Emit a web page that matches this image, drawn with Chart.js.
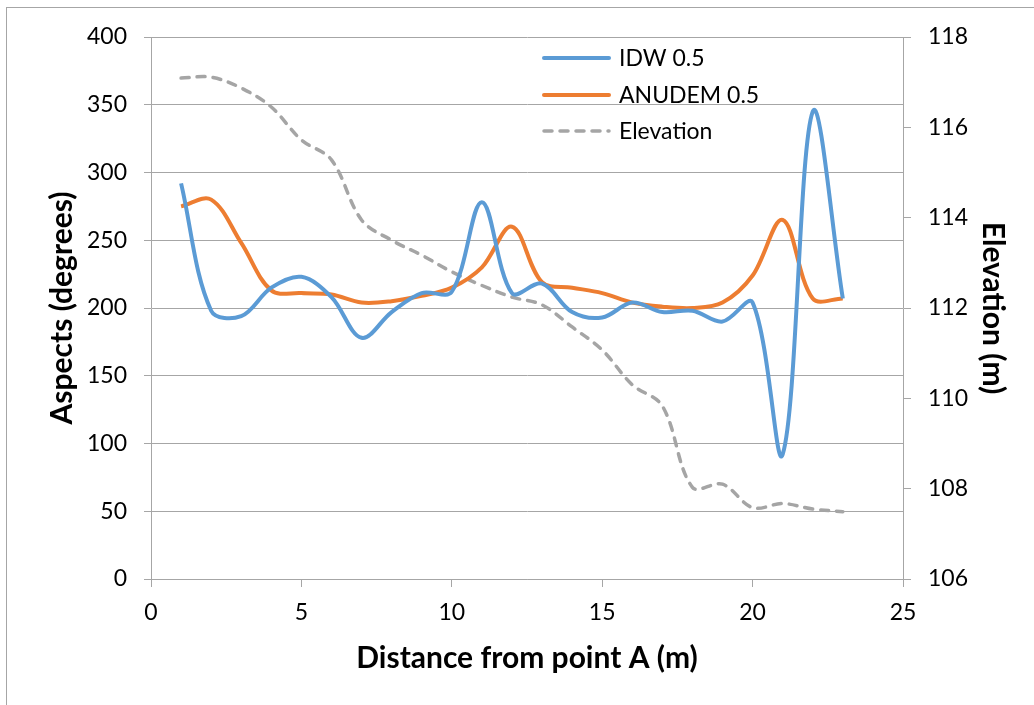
<!DOCTYPE html>
<html>
<head>
<meta charset="utf-8">
<script src="https://cdn.jsdelivr.net/npm/chart.js@4.4.1/dist/chart.umd.min.js"></script>
<style>
  html, body { margin: 0; padding: 0; background: #fff; }
  #wrap { position: relative; width: 1034px; height: 705px; overflow: hidden; }
  #frame { position: absolute; left: 6px; top: 7px; width: 1100px; height: 800px;
           border-left: 1px solid #a6a6a6; border-top: 1px solid #a6a6a6; pointer-events: none; }
  canvas { position: absolute; left: 0; top: 0; }
</style>
</head>
<body>
<div id="wrap">
  <div id="frame"></div>
  <canvas id="myChart" width="1034" height="705"></canvas>
</div>
<script>
// distances along the profile (m)
const distances = [1, 2, 3, 4, 5, 6, 7, 8, 9, 10, 11, 12, 13, 14, 15, 16, 17, 18, 19, 20, 21, 22, 23];
// aspects (degrees)
const idw = [292, 198, 194, 215, 223, 208, 178, 197, 211, 212, 278, 211, 218, 197, 193, 204, 197, 198, 190, 204, 92, 345, 207];
const anudem = [275, 280, 248, 213, 211, 210, 204, 205, 209, 215, 230, 260, 219, 215, 211, 204, 201, 200, 204, 224, 265, 207, 207];
// elevation (m)
const elevation = [117.09, 117.11, 116.87, 116.45, 115.72, 115.28, 113.95, 113.5, 113.17, 112.8, 112.5, 112.24, 112.07,
  111.58, 111.07, 110.3, 109.83, 108.03, 108.1, 107.58, 107.67, 107.55, 107.49];

const xTitle = "Distance from point A (m)";
const yTitle = "Aspects (degrees)";
const y1Title = "Elevation (m)";

const pts = (vals) => vals.map((v, i) => ({ x: distances[i], y: v }));

const gridColor = "#a6a6a6";
const tickFont = { family: "Lato", size: 23 };
const titleFont = { family: "Lato", size: 30, weight: "bold" };

// legend drawn inside the plot, like the original
const insideLegend = {
  id: "insideLegend",
  afterDraw(chart) {
    const ctx = chart.ctx;
    const x0 = 542, len = 69, tx = 619;
    const rows = [58, 95, 131];
    ctx.save();
    chart.data.datasets.forEach((ds, i) => {
      const y = rows[i];
      ctx.beginPath();
      ctx.strokeStyle = ds.borderColor;
      ctx.lineWidth = ds.borderWidth;
      ctx.lineCap = "round";
      ctx.setLineDash(ds.borderDash || []);
      ctx.moveTo(x0 + 2, y);
      ctx.lineTo(x0 + len - 2, y);
      ctx.stroke();
      ctx.setLineDash([]);
      ctx.fillStyle = "#000";
      ctx.font = "23px Lato";
      ctx.textBaseline = "middle";
      ctx.fillText(ds.label, tx, y + 1);
    });
    ctx.restore();
  }
};

const config = {
  type: "line",
  data: {
    datasets: [
      {
        label: "IDW 0.5",
        data: pts(idw),
        borderColor: "#5B9BD5",
        backgroundColor: "#5B9BD5",
        borderWidth: 4,
        tension: 0.35,
        pointRadius: 0,
        yAxisID: "y",
      },
      {
        label: "ANUDEM 0.5",
        data: pts(anudem),
        borderColor: "#ED7D31",
        backgroundColor: "#ED7D31",
        borderWidth: 4,
        tension: 0.35,
        pointRadius: 0,
        yAxisID: "y",
      },
      {
        label: "Elevation",
        data: pts(elevation),
        borderColor: "#A5A5A5",
        backgroundColor: "#A5A5A5",
        borderWidth: 3.5,
        borderDash: [8, 8],
        borderCapStyle: "round",
        tension: 0.35,
        pointRadius: 0,
        yAxisID: "y1",
      },
    ],
  },
  options: {
    responsive: false,
    animation: false,
    layout: { padding: { top: 37, left: 0, right: 0, bottom: 0 } },
    plugins: { legend: { display: false }, tooltip: { enabled: false } },
    scales: {
      x: {
        type: "linear",
        min: 0,
        max: 25,
        ticks: { stepSize: 5, font: tickFont, color: "#000", padding: 12, maxRotation: 0 },
        grid: { drawOnChartArea: false, drawTicks: true, tickLength: 8, color: gridColor },
        border: { color: gridColor, width: 1 },
        title: { display: true, text: xTitle, font: titleFont, color: "#000", padding: { bottom: 29 } },
        afterFit: (s) => { s.height = 126; },
      },
      y: {
        position: "left",
        min: 0,
        max: 400,
        ticks: { stepSize: 50, font: tickFont, color: "#000", padding: 17 },
        grid: { color: gridColor, tickLength: 7, lineWidth: 1 },
        border: { color: gridColor, width: 1 },
        title: { display: true, text: yTitle, font: titleFont, color: "#000", padding: { top: 44 } },
        afterFit: (s) => { s.width = 151; },
      },
      y1: {
        position: "right",
        min: 106,
        max: 118,
        ticks: { stepSize: 2, font: tickFont, color: "#000", padding: 17 },
        grid: { drawOnChartArea: false, color: gridColor, tickLength: 8 },
        border: { color: gridColor, width: 1 },
        title: { display: true, text: y1Title, font: titleFont, color: "#000", padding: { top: 23 } },
        afterFit: (s) => { s.width = 131; },
      },
    },
  },
  plugins: [insideLegend],
};

const myChart = new Chart(document.getElementById("myChart"), config);
</script>
</body>
</html>
